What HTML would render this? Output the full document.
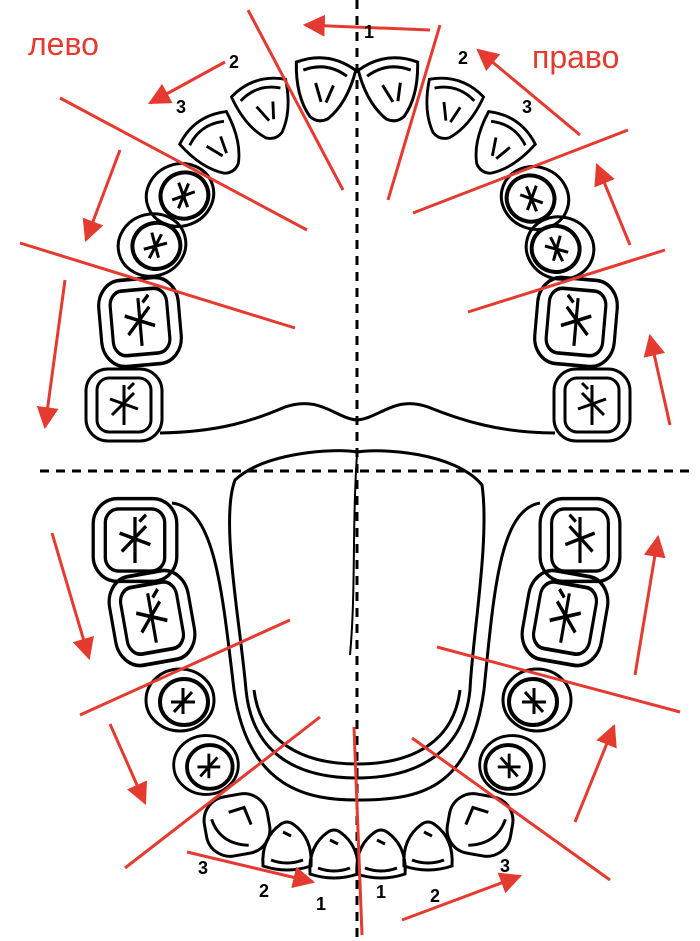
<!DOCTYPE html>
<html><head><meta charset="utf-8"><style>
html,body{margin:0;padding:0;background:#fff;width:700px;height:941px;overflow:hidden}
svg{display:block}
text{font-family:"Liberation Sans",sans-serif}
</style></head><body>
<svg width="700" height="941" viewBox="0 0 700 941" xmlns="http://www.w3.org/2000/svg">
<defs>
<marker id="a" viewBox="0 0 10 10" refX="9" refY="5" markerWidth="22" markerHeight="22" markerUnits="userSpaceOnUse" orient="auto"><path d="M0,0 L10,5 L0,10 z" fill="#e53a2f"/></marker>
<g id="molar"><rect x="-38" y="-36" width="76" height="72" rx="22" fill="none" stroke="#000" stroke-width="3"/><rect x="-27" y="-27" width="54" height="54" rx="12" fill="none" stroke="#000" stroke-width="3"/><path d="M0,-20 V20 M-14,-6 L14,4 M-12,10 L10,-12 M4,-16 L10,-22" stroke="#000" stroke-width="3" fill="none"/></g>
<g id="pre"><ellipse cx="0" cy="0" rx="34" ry="31" fill="none" stroke="#000" stroke-width="3"/><ellipse cx="4" cy="2" rx="24" ry="23" fill="none" stroke="#000" stroke-width="4"/><path d="M3,-12 V14 M-9,2 H15 M-6,12 L12,-8" stroke="#000" stroke-width="3" fill="none"/></g>
<g id="inc"><path d="M-30,-22 Q0,-38 30,-22 Q26,12 9,30 Q0,36 -9,30 Q-26,12 -30,-22 Z" fill="none" stroke="#000" stroke-width="3"/><path d="M-22,-15 Q0,-27 22,-15" fill="none" stroke="#000" stroke-width="3"/><path d="M-8,-4 L0,14 M10,-4 L5,14" stroke="#000" stroke-width="3"/></g>
<g id="linc"><path d="M-24,18 Q-26,-10 -6,-24 Q0,-28 6,-24 Q26,-10 24,18 Q0,26 -24,18 Z" fill="none" stroke="#000" stroke-width="3"/><path d="M-16,12 Q0,18 16,12 M-4,-16 L4,-12" fill="none" stroke="#000" stroke-width="3"/></g>
<g id="can"><rect x="-32" y="-30" width="64" height="60" rx="24" fill="none" stroke="#000" stroke-width="3"/><path d="M-24,-10 Q-20,16 8,22 M-6,-14 L10,-16 L14,2" fill="none" stroke="#000" stroke-width="3"/></g>
</defs>
<line x1="357" y1="0" x2="357" y2="941" stroke="#000" stroke-width="3" stroke-dasharray="9,7"/>
<line x1="40" y1="471" x2="690" y2="471" stroke="#000" stroke-width="3" stroke-dasharray="9,7"/>
<!-- upper teeth left -->
<use href="#inc" transform="translate(323,88) rotate(8)"/>
<use href="#inc" transform="translate(265,108) rotate(-18) scale(0.95)"/>
<use href="#inc" transform="translate(215,145) rotate(-35) scale(0.95)"/>
<use href="#pre" transform="translate(180,195) rotate(-20)"/>
<use href="#pre" transform="translate(152,245) rotate(-15)"/>
<use href="#molar" transform="translate(140,322) rotate(-5) scale(1.05,1.2)"/>
<use href="#molar" transform="translate(124,405) scale(1,1)"/>
<!-- upper teeth right -->
<use href="#inc" transform="translate(391,88) rotate(-8)"/>
<use href="#inc" transform="translate(450,108) rotate(18) scale(0.95)"/>
<use href="#inc" transform="translate(500,145) rotate(35) scale(0.95)"/>
<use href="#pre" transform="translate(535,198) rotate(20) scale(-1,1)"/>
<use href="#pre" transform="translate(560,248) rotate(15) scale(-1,1)"/>
<use href="#molar" transform="translate(576,322) rotate(5) scale(-1.05,1.2)"/>
<use href="#molar" transform="translate(592,405) scale(-1,1)"/>
<path d="M160,433 C220,432 255,420 285,407 C320,395 335,418 357,420 C380,418 395,395 428,407 C460,420 500,433 555,433" fill="none" stroke="#000" stroke-width="3"/>
<!-- lower jaw -->
<path d="M172,503 C215,508 222,590 234,690 C248,790 310,800 357,800 C420,800 470,790 484,690 C494,590 500,510 540,503" fill="none" stroke="#000" stroke-width="3"/>
<path d="M235,480 C265,452 335,448 357,452 C380,448 455,452 482,485 C490,540 472,640 470,690 C464,750 420,778 357,778 C292,778 252,750 246,690 C240,620 220,520 235,480 Z" fill="none" stroke="#000" stroke-width="3"/>
<path d="M254,690 C260,740 300,764 357,764 C415,764 454,740 460,690" fill="none" stroke="#000" stroke-width="3"/>
<path d="M357,455 C352,520 356,590 350,655" fill="none" stroke="#000" stroke-width="2"/>
<!-- lower teeth -->
<use href="#molar" transform="translate(135,540) scale(1.1,1.15)"/>
<use href="#molar" transform="translate(152,618) rotate(-10) scale(1.05,1.25)"/>
<use href="#pre" transform="translate(180,700)"/>
<use href="#pre" transform="translate(206,765) scale(0.95)"/>
<use href="#molar" transform="translate(580,540) scale(-1.05,1.15)"/>
<use href="#molar" transform="translate(565,618) rotate(10) scale(-1.05,1.25)"/>
<use href="#pre" transform="translate(537,700) scale(-1,1)"/>
<use href="#pre" transform="translate(512,765) scale(-0.95,0.95)"/>
<use href="#can" transform="translate(237,825) rotate(-10)"/>
<use href="#linc" transform="translate(287,848)"/>
<use href="#linc" transform="translate(334,856)"/>
<use href="#linc" transform="translate(381,856)"/>
<use href="#linc" transform="translate(428,848)"/>
<use href="#can" transform="translate(480,825) rotate(10) scale(-1,1)"/>
<g stroke="#e53a2f" stroke-width="3" fill="none">
<line x1="248" y1="10" x2="343" y2="190"/>
<line x1="60" y1="98" x2="307" y2="230"/>
<line x1="20" y1="243" x2="295" y2="328"/>
<line x1="440" y1="25" x2="388" y2="200"/>
<line x1="628" y1="130" x2="413" y2="213"/>
<line x1="665" y1="250" x2="468" y2="312"/>
<line x1="290" y1="620" x2="80" y2="715"/>
<line x1="320" y1="717" x2="125" y2="868"/>
<line x1="354" y1="727" x2="362" y2="935"/>
<line x1="437" y1="647" x2="680" y2="712"/>
<line x1="412" y1="738" x2="610" y2="880"/>
</g>
<g stroke="#e53a2f" stroke-width="3" fill="none" marker-end="url(#a)">
<line x1="430" y1="30" x2="305" y2="25"/>
<line x1="225" y1="62" x2="150" y2="103"/>
<line x1="120" y1="150" x2="86" y2="240"/>
<line x1="65" y1="280" x2="45" y2="427"/>
<line x1="580" y1="135" x2="478" y2="50"/>
<line x1="630" y1="245" x2="597" y2="165"/>
<line x1="670" y1="425" x2="650" y2="336"/>
<line x1="635" y1="675" x2="658" y2="537"/>
<line x1="575" y1="822" x2="614" y2="726"/>
<line x1="52" y1="533" x2="89" y2="658"/>
<line x1="110" y1="724" x2="145" y2="803"/>
<line x1="187" y1="852" x2="313" y2="882"/>
<line x1="402" y1="920" x2="520" y2="876"/>
</g>
<text x="28" y="55" font-size="32" fill="#e53a2f">лево</text>
<text x="532" y="68" font-size="32" fill="#e53a2f">право</text>
<g font-size="18" font-weight="bold" fill="#000">
<text x="364" y="38">1</text>
<text x="229" y="68">2</text>
<text x="176" y="113">3</text>
<text x="458" y="64">2</text>
<text x="522" y="113">3</text>
<text x="198" y="874">3</text>
<text x="259" y="897">2</text>
<text x="316" y="910">1</text>
<text x="376" y="898">1</text>
<text x="430" y="902">2</text>
<text x="500" y="872">3</text>
</g>
</svg>
</body></html>
